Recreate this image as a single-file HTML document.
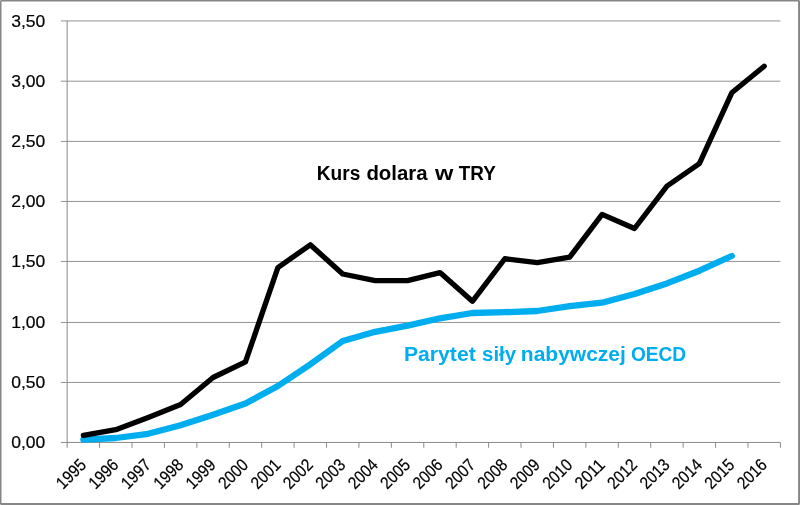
<!DOCTYPE html>
<html lang="pl"><head><meta charset="utf-8"><title>Kurs dolara w TRY</title>
<style>
html,body{margin:0;padding:0;background:#fff;}
body{width:800px;height:505px;overflow:hidden;}
svg{display:block;}
text{font-family:"Liberation Sans",sans-serif;}
.ax{font-size:17.3px;fill:#000;stroke:#000;stroke-width:0.2px;}
.lbl{font-size:19.5px;font-weight:bold;}
</style></head><body>
<svg width="800" height="505" viewBox="0 0 800 505">
<rect x="0" y="0" width="800" height="505" fill="#fff"/>

<line x1="60.85" y1="382.45" x2="780.40" y2="382.45" stroke="#939393" stroke-width="1"/>
<line x1="60.85" y1="322.45" x2="780.40" y2="322.45" stroke="#939393" stroke-width="1"/>
<line x1="60.85" y1="261.45" x2="780.40" y2="261.45" stroke="#939393" stroke-width="1"/>
<line x1="60.85" y1="201.45" x2="780.40" y2="201.45" stroke="#939393" stroke-width="1"/>
<line x1="60.85" y1="141.40" x2="780.40" y2="141.40" stroke="#939393" stroke-width="1"/>
<line x1="60.85" y1="81.20" x2="780.40" y2="81.20" stroke="#939393" stroke-width="1"/>
<line x1="60.85" y1="20.95" x2="780.40" y2="20.95" stroke="#939393" stroke-width="1"/>
<line x1="67.15" y1="20.95" x2="67.15" y2="447.75" stroke="#8a8a8a" stroke-width="1"/>
<line x1="60.85" y1="442.45" x2="780.40" y2="442.45" stroke="#8a8a8a" stroke-width="1"/>
<line x1="99.57" y1="442.45" x2="99.57" y2="447.75" stroke="#8a8a8a" stroke-width="1"/>
<line x1="131.99" y1="442.45" x2="131.99" y2="447.75" stroke="#8a8a8a" stroke-width="1"/>
<line x1="164.41" y1="442.45" x2="164.41" y2="447.75" stroke="#8a8a8a" stroke-width="1"/>
<line x1="196.83" y1="442.45" x2="196.83" y2="447.75" stroke="#8a8a8a" stroke-width="1"/>
<line x1="229.25" y1="442.45" x2="229.25" y2="447.75" stroke="#8a8a8a" stroke-width="1"/>
<line x1="261.67" y1="442.45" x2="261.67" y2="447.75" stroke="#8a8a8a" stroke-width="1"/>
<line x1="294.09" y1="442.45" x2="294.09" y2="447.75" stroke="#8a8a8a" stroke-width="1"/>
<line x1="326.51" y1="442.45" x2="326.51" y2="447.75" stroke="#8a8a8a" stroke-width="1"/>
<line x1="358.93" y1="442.45" x2="358.93" y2="447.75" stroke="#8a8a8a" stroke-width="1"/>
<line x1="391.35" y1="442.45" x2="391.35" y2="447.75" stroke="#8a8a8a" stroke-width="1"/>
<line x1="423.77" y1="442.45" x2="423.77" y2="447.75" stroke="#8a8a8a" stroke-width="1"/>
<line x1="456.20" y1="442.45" x2="456.20" y2="447.75" stroke="#8a8a8a" stroke-width="1"/>
<line x1="488.62" y1="442.45" x2="488.62" y2="447.75" stroke="#8a8a8a" stroke-width="1"/>
<line x1="521.04" y1="442.45" x2="521.04" y2="447.75" stroke="#8a8a8a" stroke-width="1"/>
<line x1="553.46" y1="442.45" x2="553.46" y2="447.75" stroke="#8a8a8a" stroke-width="1"/>
<line x1="585.88" y1="442.45" x2="585.88" y2="447.75" stroke="#8a8a8a" stroke-width="1"/>
<line x1="618.30" y1="442.45" x2="618.30" y2="447.75" stroke="#8a8a8a" stroke-width="1"/>
<line x1="650.72" y1="442.45" x2="650.72" y2="447.75" stroke="#8a8a8a" stroke-width="1"/>
<line x1="683.14" y1="442.45" x2="683.14" y2="447.75" stroke="#8a8a8a" stroke-width="1"/>
<line x1="715.56" y1="442.45" x2="715.56" y2="447.75" stroke="#8a8a8a" stroke-width="1"/>
<line x1="747.98" y1="442.45" x2="747.98" y2="447.75" stroke="#8a8a8a" stroke-width="1"/>
<line x1="780.40" y1="442.45" x2="780.40" y2="447.75" stroke="#8a8a8a" stroke-width="1"/>
<text class="ax" x="11.2" y="448.20" textLength="34.1" lengthAdjust="spacingAndGlyphs">0,00</text>
<text class="ax" x="11.2" y="388.20" textLength="34.1" lengthAdjust="spacingAndGlyphs">0,50</text>
<text class="ax" x="11.2" y="328.20" textLength="34.1" lengthAdjust="spacingAndGlyphs">1,00</text>
<text class="ax" x="11.2" y="267.20" textLength="34.1" lengthAdjust="spacingAndGlyphs">1,50</text>
<text class="ax" x="11.2" y="207.20" textLength="34.1" lengthAdjust="spacingAndGlyphs">2,00</text>
<text class="ax" x="11.2" y="147.15" textLength="34.1" lengthAdjust="spacingAndGlyphs">2,50</text>
<text class="ax" x="11.2" y="86.95" textLength="34.1" lengthAdjust="spacingAndGlyphs">3,00</text>
<text class="ax" x="11.2" y="26.70" textLength="34.1" lengthAdjust="spacingAndGlyphs">3,50</text>
<text class="ax" transform="translate(87.16,466.00) rotate(-45)" x="-34.0" textLength="34.0" lengthAdjust="spacingAndGlyphs">1995</text>
<text class="ax" transform="translate(119.58,466.00) rotate(-45)" x="-34.0" textLength="34.0" lengthAdjust="spacingAndGlyphs">1996</text>
<text class="ax" transform="translate(152.00,466.00) rotate(-45)" x="-34.0" textLength="34.0" lengthAdjust="spacingAndGlyphs">1997</text>
<text class="ax" transform="translate(184.42,466.00) rotate(-45)" x="-34.0" textLength="34.0" lengthAdjust="spacingAndGlyphs">1998</text>
<text class="ax" transform="translate(216.84,466.00) rotate(-45)" x="-34.0" textLength="34.0" lengthAdjust="spacingAndGlyphs">1999</text>
<text class="ax" transform="translate(249.26,466.00) rotate(-45)" x="-34.0" textLength="34.0" lengthAdjust="spacingAndGlyphs">2000</text>
<text class="ax" transform="translate(281.68,466.00) rotate(-45)" x="-34.0" textLength="34.0" lengthAdjust="spacingAndGlyphs">2001</text>
<text class="ax" transform="translate(314.10,466.00) rotate(-45)" x="-34.0" textLength="34.0" lengthAdjust="spacingAndGlyphs">2002</text>
<text class="ax" transform="translate(346.52,466.00) rotate(-45)" x="-34.0" textLength="34.0" lengthAdjust="spacingAndGlyphs">2003</text>
<text class="ax" transform="translate(378.94,466.00) rotate(-45)" x="-34.0" textLength="34.0" lengthAdjust="spacingAndGlyphs">2004</text>
<text class="ax" transform="translate(411.36,466.00) rotate(-45)" x="-34.0" textLength="34.0" lengthAdjust="spacingAndGlyphs">2005</text>
<text class="ax" transform="translate(443.79,466.00) rotate(-45)" x="-34.0" textLength="34.0" lengthAdjust="spacingAndGlyphs">2006</text>
<text class="ax" transform="translate(476.21,466.00) rotate(-45)" x="-34.0" textLength="34.0" lengthAdjust="spacingAndGlyphs">2007</text>
<text class="ax" transform="translate(508.63,466.00) rotate(-45)" x="-34.0" textLength="34.0" lengthAdjust="spacingAndGlyphs">2008</text>
<text class="ax" transform="translate(541.05,466.00) rotate(-45)" x="-34.0" textLength="34.0" lengthAdjust="spacingAndGlyphs">2009</text>
<text class="ax" transform="translate(573.47,466.00) rotate(-45)" x="-34.0" textLength="34.0" lengthAdjust="spacingAndGlyphs">2010</text>
<text class="ax" transform="translate(605.89,466.00) rotate(-45)" x="-34.0" textLength="34.0" lengthAdjust="spacingAndGlyphs">2011</text>
<text class="ax" transform="translate(638.31,466.00) rotate(-45)" x="-34.0" textLength="34.0" lengthAdjust="spacingAndGlyphs">2012</text>
<text class="ax" transform="translate(670.73,466.00) rotate(-45)" x="-34.0" textLength="34.0" lengthAdjust="spacingAndGlyphs">2013</text>
<text class="ax" transform="translate(703.15,466.00) rotate(-45)" x="-34.0" textLength="34.0" lengthAdjust="spacingAndGlyphs">2014</text>
<text class="ax" transform="translate(735.57,466.00) rotate(-45)" x="-34.0" textLength="34.0" lengthAdjust="spacingAndGlyphs">2015</text>
<text class="ax" transform="translate(767.99,466.00) rotate(-45)" x="-34.0" textLength="34.0" lengthAdjust="spacingAndGlyphs">2016</text>
<polyline points="83.36,439.60 115.78,438.00 148.20,433.80 180.62,425.30 213.04,414.70 245.46,403.50 277.88,386.00 310.30,364.30 342.72,341.00 375.14,331.80 407.56,325.60 439.99,318.30 472.41,313.00 504.83,312.20 537.25,311.00 569.67,306.10 602.09,302.70 634.51,294.00 666.93,283.40 699.35,270.70 731.77,256.00" fill="none" stroke="#00adef" stroke-width="6.3" stroke-linecap="round" stroke-linejoin="round"/>
<polyline points="83.36,435.30 115.78,429.70 148.20,417.50 180.62,404.50 213.04,377.50 245.46,361.80 277.88,267.60 310.30,244.80 342.72,274.00 375.14,280.60 407.56,280.60 439.99,272.60 472.41,301.30 504.83,258.75 537.25,262.60 569.67,257.20 602.09,214.40 634.51,228.50 666.93,186.10 699.35,163.60 731.77,92.80 764.19,66.20" fill="none" stroke="#000" stroke-width="5.3" stroke-linecap="round" stroke-linejoin="round"/>
<g class="lbl" fill="#000">
<text x="316.82" y="179.6" textLength="43.51" lengthAdjust="spacingAndGlyphs">Kurs</text>
<text x="366.4" y="179.6" textLength="61.21" lengthAdjust="spacingAndGlyphs">dolara</text>
<text x="435.0" y="179.6" textLength="18.31" lengthAdjust="spacingAndGlyphs">w</text>
<text x="458.75" y="179.6" textLength="37.12" lengthAdjust="spacingAndGlyphs">TRY</text>
</g>
<g class="lbl" fill="#00adef">
<text x="403.91" y="361.4" textLength="71.82" lengthAdjust="spacingAndGlyphs">Parytet</text>
<text x="482.05" y="361.4" textLength="34.06" lengthAdjust="spacingAndGlyphs">siły</text>
<text x="520.82" y="361.4" textLength="105.07" lengthAdjust="spacingAndGlyphs">nabywczej</text>
<text x="630.92" y="361.4" textLength="55.22" lengthAdjust="spacingAndGlyphs">OECD</text>
</g>
<path d="M0 0H800V505H0Z M1.5 1.5V503.1H798.1V1.5Z" fill="#868686" fill-rule="evenodd"/>
<path d="M0 0h1v1h-1zM799 0h1v1h-1zM0 504h1v1h-1zM799 504h1v1h-1z" fill="#fff" fill-opacity="0.4"/>
</svg></body></html>
